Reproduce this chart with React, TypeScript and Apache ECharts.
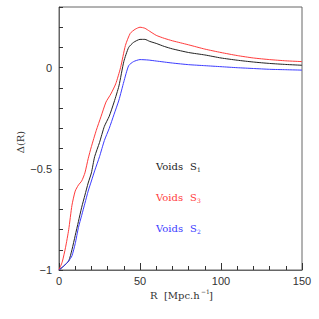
import React, { useEffect, useRef } from 'react';
import * as echarts from 'echarts';

// R values and Δ(R) for each void sample
const rS1 = [0, 3, 6, 8, 10, 12, 14, 16, 18, 20, 22, 25, 28, 31, 34, 37, 40, 43, 46, 50, 53, 56, 60, 65, 70, 80, 90, 100, 110, 120, 130, 140, 150];
const vS1 = [-1, -0.98, -0.955, -0.9, -0.83, -0.76, -0.69, -0.63, -0.57, -0.52, -0.44, -0.37, -0.29, -0.24, -0.17, -0.09, 0.03, 0.1, 0.125, 0.14, 0.14, 0.13, 0.12, 0.105, 0.093, 0.075, 0.063, 0.048, 0.037, 0.028, 0.021, 0.016, 0.012];

const rS3 = [0, 2, 4, 6, 8, 10, 12, 14, 16, 18, 20, 23, 26, 29, 32, 35, 38, 41, 44, 47, 50, 53, 56, 60, 65, 70, 75, 80, 90, 100, 110, 120, 130, 140, 150];
const vS3 = [-1, -0.96, -0.89, -0.8, -0.68, -0.61, -0.58, -0.56, -0.52, -0.45, -0.39, -0.31, -0.24, -0.17, -0.13, -0.08, 0.0, 0.11, 0.17, 0.19, 0.2, 0.195, 0.18, 0.16, 0.145, 0.133, 0.123, 0.113, 0.092, 0.075, 0.06, 0.048, 0.04, 0.034, 0.03];

const rS2 = [0, 3, 6, 8, 10, 12, 14, 16, 18, 20, 22, 25, 28, 31, 34, 37, 40, 43, 46, 50, 55, 60, 70, 80, 90, 100, 110, 120, 130, 140, 150];
const vS2 = [-1, -0.98, -0.955, -0.93, -0.87, -0.79, -0.73, -0.67, -0.61, -0.56, -0.51, -0.44, -0.36, -0.3, -0.23, -0.16, -0.07, 0.01, 0.03, 0.04, 0.038, 0.033, 0.023, 0.015, 0.01, 0.005, 0.0, -0.004, -0.008, -0.01, -0.012];

const seriesNames = ['Voids S1', 'Voids S3', 'Voids S2'];
const seriesColors = ['#222222', '#ff3b3b', '#3b3bff'];
const labelSubs = ['1', '3', '2'];
const yTickLabels = [-1, -0.5, 0];

const AXIS_COLOR = '#666666';
const TICK_COLOR = '#333333';
const TEXT_COLOR = '#333333';
const SERIF = 'DejaVu Serif';
const SANS = 'Liberation Sans';

export default function App() {
  const ref = useRef<HTMLDivElement>(null);
  useEffect(() => {
    if (!ref.current) return;
    const chart = echarts.init(ref.current, null, { renderer: 'svg' });
    const pairs = (rs: number[], vs: number[]) => rs.map((r, i) => [r, vs[i]]);
    const data = [pairs(rS1, vS1), pairs(rS3, vS3), pairs(rS2, vS2)];

    const fmtY = (v: number) => {
      for (const t of yTickLabels) {
        if (Math.abs(v - t) < 1e-6) return t < 0 ? '\u2212' + String(Math.abs(t)) : String(t);
      }
      return '';
    };

    const txt = (text: string, x: number, y: number, color: string, size: number) => ({
      type: 'text', x, y,
      style: { text, fill: color, fontSize: size, fontFamily: SERIF, verticalAlign: 'middle' },
      z: 10,
    });

    const labelYs = [166, 197, 228];
    const graphics: any[] = [];
    seriesNames.forEach((n, i) => {
      graphics.push(txt('Voids', 156, labelYs[i], seriesColors[i], 10));
      graphics.push(txt('S', 190, labelYs[i], seriesColors[i], 10));
      graphics.push(txt(labelSubs[i], 197, labelYs[i] + 3, seriesColors[i], 6));
    });
    graphics.push(txt('R  [Mpc.h', 150, 295, TEXT_COLOR, 10));
    graphics.push(txt('\u22121', 201, 291, TEXT_COLOR, 6));
    graphics.push(txt(']', 209, 295, TEXT_COLOR, 10));
    graphics.push({
      type: 'text', x: 20, y: 142, rotation: Math.PI / 2,
      style: { text: '\u0394(R)', fill: TEXT_COLOR, fontSize: 10, fontFamily: SERIF, align: 'center', verticalAlign: 'middle' },
    });

    chart.setOption({
      animation: false,
      grid: {
        left: 59, right: 17, top: 7, bottom: 49, containLabel: false,
        show: true, borderColor: AXIS_COLOR, borderWidth: 1, backgroundColor: 'transparent',
      },
      xAxis: {
        type: 'value', min: 0, max: 150, interval: 50, position: 'bottom',
        axisLine: { show: true, onZero: false, lineStyle: { color: AXIS_COLOR, width: 1 } },
        axisTick: { show: true, inside: true, length: 7, lineStyle: { color: TICK_COLOR, width: 1 } },
        minorTick: { show: true, splitNumber: 5, length: 4, lineStyle: { color: TICK_COLOR, width: 1 } },
        splitLine: { show: false },
        axisLabel: { show: true, color: TEXT_COLOR, fontSize: 11, fontFamily: SANS, margin: 5 },
      },
      yAxis: {
        type: 'value', min: -1, max: 0.3, interval: 0.1, position: 'left',
        axisLine: { show: true, onZero: false, lineStyle: { color: AXIS_COLOR, width: 1 } },
        axisTick: { show: true, inside: true, length: 4, lineStyle: { color: TICK_COLOR, width: 1 } },
        splitLine: { show: false },
        axisLabel: { show: true, formatter: fmtY, color: TEXT_COLOR, fontSize: 11, fontFamily: SANS, margin: 7 },
      },
      series: data.map((d, i) => ({
        name: seriesNames[i],
        type: 'line',
        data: d,
        showSymbol: false,
        symbol: 'none',
        smooth: 0.2,
        lineStyle: { color: seriesColors[i], width: 1 },
        z: 3,
      })),
      graphic: graphics,
    });
    return () => chart.dispose();
  }, []);
  return <div ref={ref} style={{ width: 319, height: 319, position: 'absolute', left: 0, top: 0 }} />;
}
